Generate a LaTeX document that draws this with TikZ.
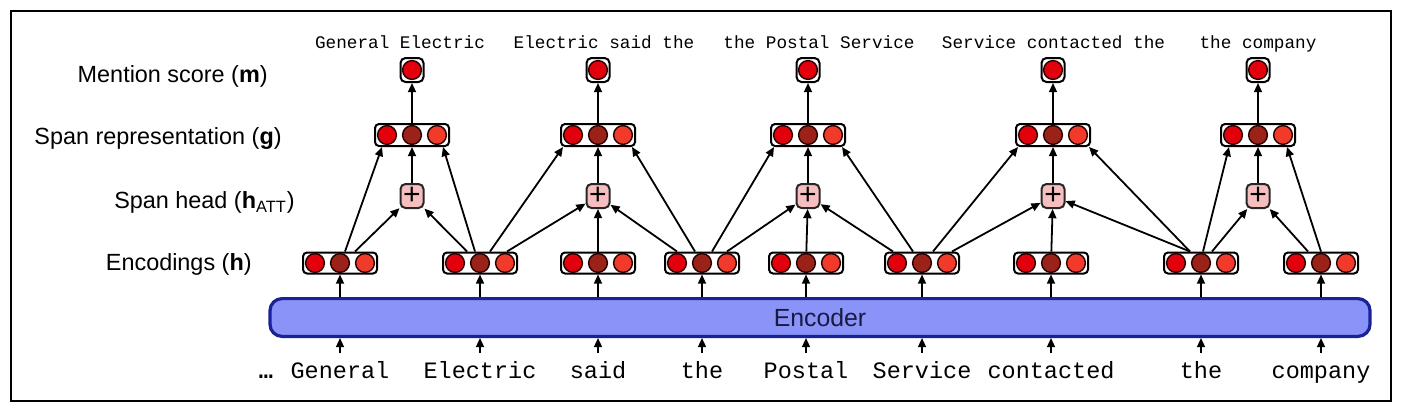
\documentclass[tikz,border=0pt]{standalone}
\usepackage{fontspec}
\setmainfont{Liberation Sans}
\newfontfamily\wordfont{Liberation Mono}
\usetikzlibrary{arrows.meta}
\definecolor{dotRed}{HTML}{E2000C}
\definecolor{dotDark}{HTML}{9A2219}
\definecolor{dotOrange}{HTML}{F23A2B}
\definecolor{plusPink}{HTML}{F6BEBE}
\definecolor{encFill}{HTML}{8A93F8}
\definecolor{encLine}{HTML}{1B2196}
\definecolor{encText}{HTML}{1A1A40}
\begin{document}
\begin{tikzpicture}
        [x=0.5pt, y=-0.5pt,
        vecBox/.style={draw, line width=1pt, rounded corners=2pt, minimum width=37pt, minimum height=10.5pt, inner sep=0pt},
        oneBox/.style={draw, line width=1pt, rounded corners=2.5pt, minimum width=11.5pt, minimum height=12pt, inner sep=0pt},
        plusBox/.style={oneBox, draw=black!85, fill=plusPink, font=\fontsize{15}{15}\selectfont},
        dotNode/.style={circle, draw=black!85!red, line width=0.7pt, minimum size=9.4pt, inner sep=0pt},
        rowLabel/.style={anchor=base east, inner sep=0pt, font=\fontsize{11.7}{14}\selectfont},
        word/.style={anchor=base, inner sep=0pt, text height=12.5pt, font=\wordfont\fontsize{11.75}{14}\selectfont},
        spanText/.style={anchor=base, inner sep=0pt, font=\wordfont\fontsize{8.85}{10}\selectfont},
        arr/.style={line width=0.9pt, -{Triangle[length=4.6pt,width=4pt]}}]
        \useasboundingbox (0,0) rectangle (1403,413);
        \draw[line width=1pt] (11,11) rectangle (1391,401);

        % row labels
        \node[rowLabel] (LM) at (268,82) {Mention score (\textbf{m})};
        \node[rowLabel] (LG) at (282,144.5) {Span representation (\textbf{g})};
        \node[rowLabel] (LP) at (295,208.4) {Span head (\textbf{h}\textsubscript{ATT})};
        \node[rowLabel] (LH) at (252,270.7) {Encodings (\textbf{h})};

        % encoder
        \node[draw=encLine, fill=encFill, line width=1.6pt, rounded corners=6pt, minimum width=550pt, minimum height=18.9pt, text=encText, font=\fontsize{12.4}{14}\selectfont] (E) at (820,317.5) {Encoder};

        % words and encodings
        \node[word] (D) at (266,378) {\bfseries …};
        \foreach \n/\x/\w in {1/340/General, 2/480/Electric, 3/598/said, 4/702/the, 5/806/Postal, 6/922/Service, 7/1051/contacted, 8/1201/the, 9/1321/company} {
            \node[word] (W\n) at (\x,378) {\w};
            \node[vecBox] (H\n) at (\x,263) {};
            \draw[arr] (W\n) -- (W\n |- E.south);
            \draw[arr] (H\n |- E.north) -- (H\n);
        }

        % spans
        \foreach \n/\x/\t/\s in {1/412/400/General Electric, 2/598/604/Electric said the, 3/808/819/the Postal Service, 4/1053/1053.5/Service contacted the, 5/1258/1258/the company} {
            \node[spanText] (T\n) at (\t,48) {\s};
            \node[oneBox] (M\n) at (\x,70) {};
            \node[vecBox, minimum height=11pt] (G\n) at (\x,135) {};
            \node[plusBox] (P\n) at (\x,196) {+};
            \node[dotNode, fill=dotRed] at (M\n) {};
            \draw[arr] (G\n) -- (M\n);
            \draw[arr] (P\n) -- (G\n);
        }

        % circles in the vectors
        \foreach \b in {H1,H2,H3,H4,H5,H6,H7,H8,H9,G1,G2,G3,G4,G5} {
            \node[dotNode, fill=dotRed] at ([xshift=-12.5pt]\b.center) {};
            \node[dotNode, fill=dotDark] at (\b.center) {};
            \node[dotNode, fill=dotOrange] at ([xshift=12.5pt]\b.center) {};
        }

        % encodings to span head and span representation
        \draw[arr] ([xshift=2.5pt]H1.north) -- ([xshift=-15pt]G1.south);
        \draw[arr] ([xshift=7.5pt]H1.north) -- (P1);
        \draw[arr] ([xshift=-6.5pt]H2.north) -- (P1);
        \draw[arr] ([xshift=-2.5pt]H2.north) -- ([xshift=15.5pt]G1.south);
        \draw[arr] ([xshift=5pt]H2.north) -- ([xshift=-17.5pt]G2.south);
        \draw[arr] ([xshift=13.5pt]H2.north) -- (P2);
        \draw[arr] (H3) -- (P2);
        \draw[arr] ([xshift=-12.5pt]H4.north) -- (P2);
        \draw[arr] ([xshift=-3.5pt]H4.north) -- ([xshift=17pt]G2.south);
        \draw[arr] ([xshift=5pt]H4.north) -- ([xshift=-17pt]G3.south);
        \draw[arr] ([xshift=12.5pt]H4.north) -- (P3);
        \draw[arr] (H5) -- (P3);
        \draw[arr] ([xshift=-14.5pt]H6.north) -- (P3);
        \draw[arr] ([xshift=-4.5pt]H6.north) -- ([xshift=17pt]G3.south);
        \draw[arr] ([xshift=5.5pt]H6.north) -- ([xshift=-17.5pt]G4.south);
        \draw[arr] ([xshift=15pt]H6.north) -- (P4);
        \draw[arr] (H7) -- (P4);
        \draw[arr] ([xshift=-5.5pt]H8.north) -- (P4);
        \draw[arr] ([xshift=-5.5pt]H8.north) -- ([xshift=18pt]G4.south);
        \draw[arr] ([xshift=1pt]H8.north) -- ([xshift=-14.5pt]G5.south);
        \draw[arr] ([xshift=5.5pt]H8.north) -- (P5);
        \draw[arr] ([xshift=-6.5pt]H9.north) -- (P5);
        \draw[arr] (H9.north) -- ([xshift=14.5pt]G5.south);
\end{tikzpicture}
\end{document}
